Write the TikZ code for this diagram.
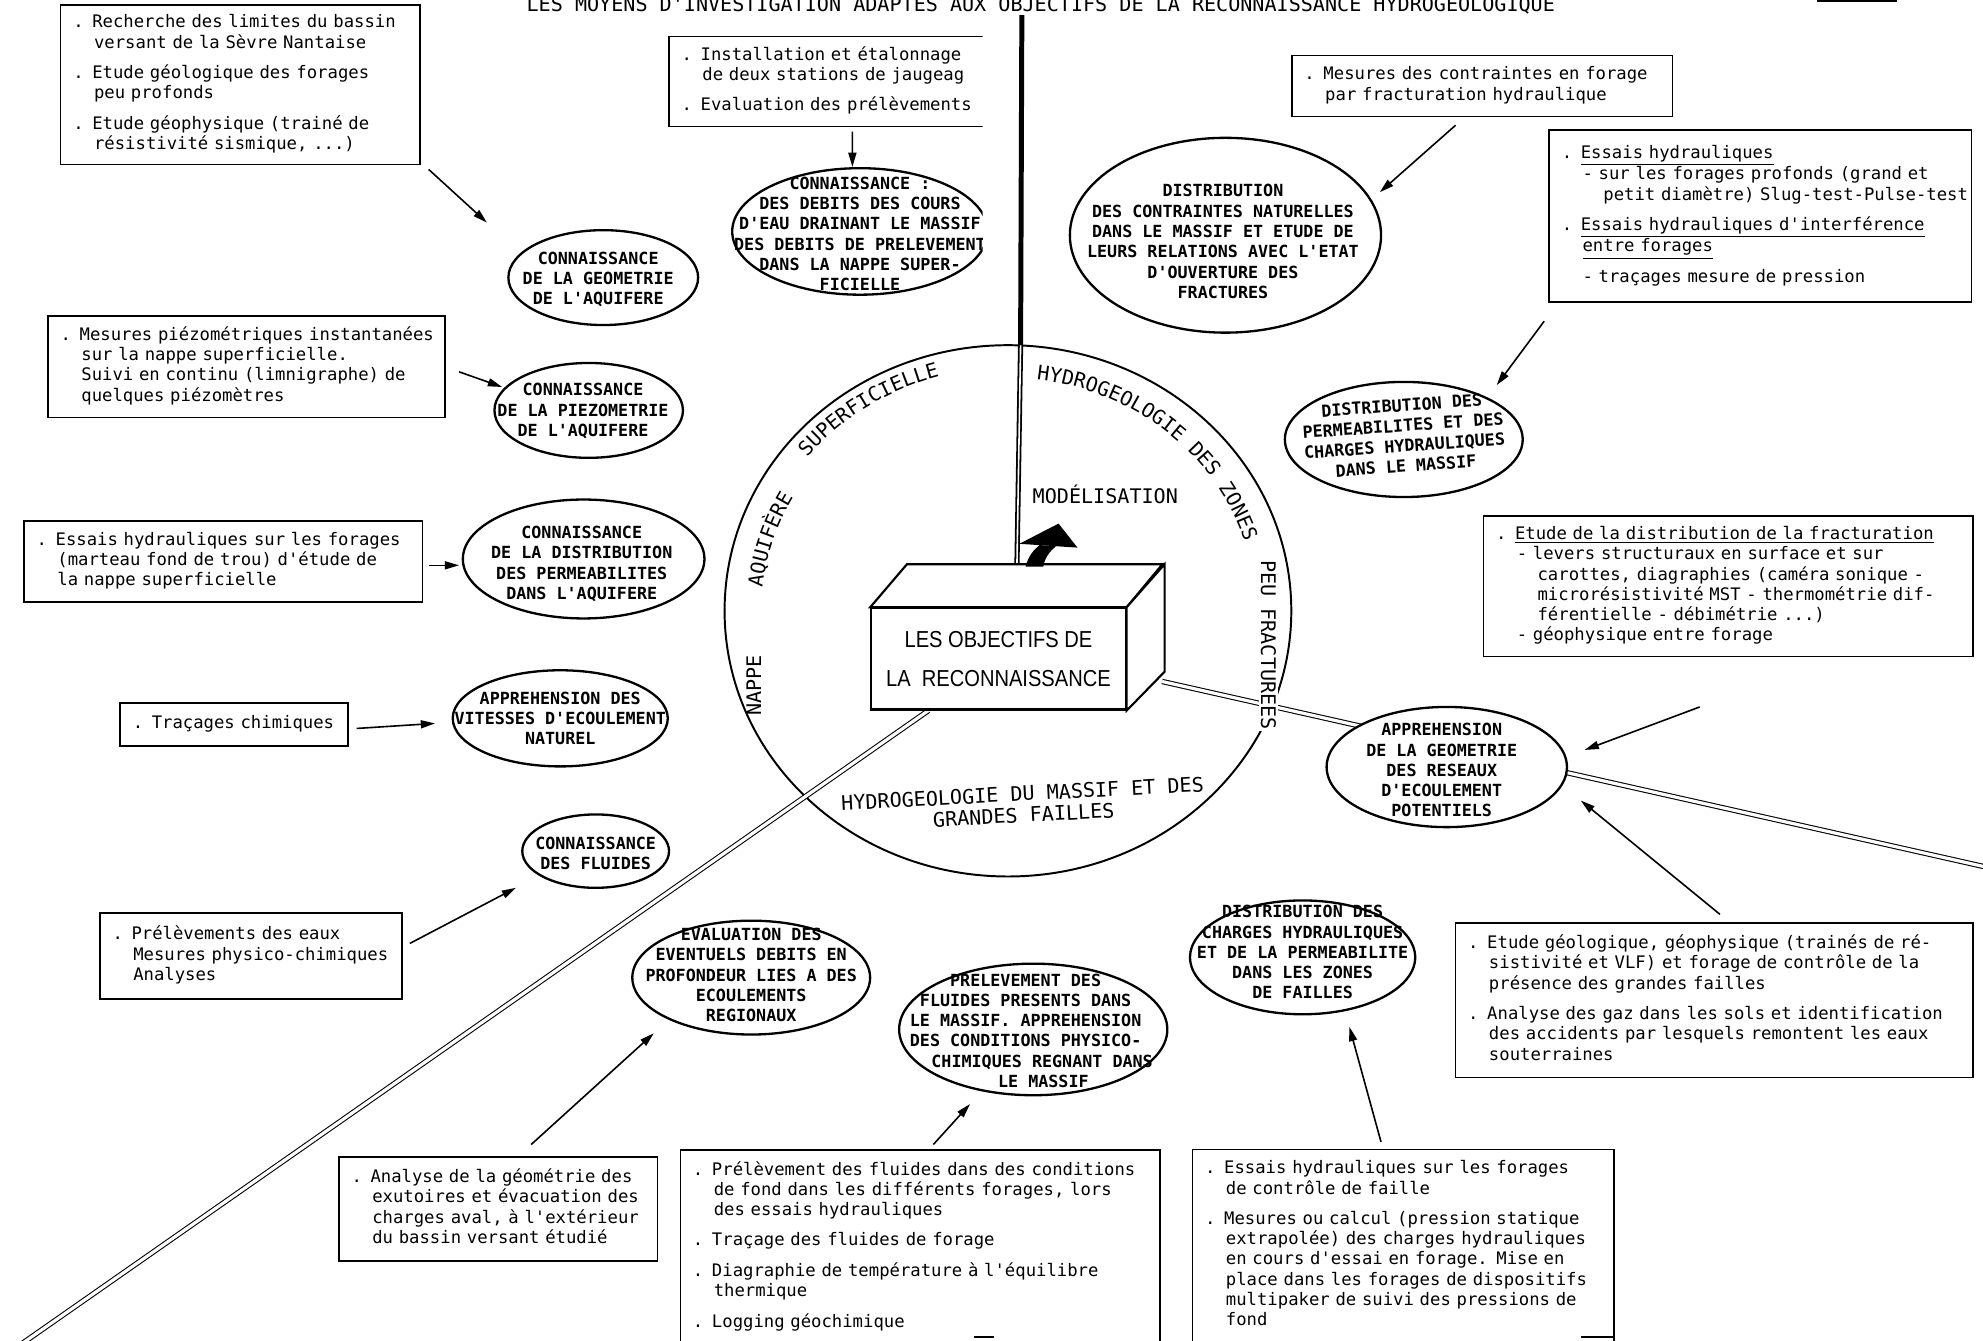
\documentclass[tikz,border=0pt]{standalone}
\usepackage{fontspec}
\setmonofont{DejaVu Sans Mono}
\newfontfamily\cubefont{Liberation Sans}[FakeStretch=0.87]
\usetikzlibrary{shapes.geometric,arrows.meta,decorations.text}
\newcommand\bxf{\ttfamily\fontsize{9.7}{11.4}\selectfont}
\newcommand\elf{\ttfamily\bfseries\fontsize{9.4}{11.4}\selectfont}
\newcommand\lbf{\ttfamily\fontsize{11.3}{12}\selectfont}
\newcommand\tb[1]{\begin{tabular}{@{}l@{}}#1\end{tabular}}
\newcommand\ii{\phantom{xx}}
\newcommand\iv{\phantom{xxxx}}
\newcommand\gp{\\[5.7pt]}
\begin{document}
\begin{tikzpicture}[x=0.025cm, y=-0.025cm,
  box/.style={draw, line width=0.9pt, rectangle, inner sep=0pt, font=\bxf},
  bxs/.style n args={3}{box, minimum width=#1, minimum height=#2, text width=#3},
  ell/.style={draw, line width=1.3pt, ellipse, inner sep=0pt, fill=white},
  els/.style n args={2}{ell, minimum width=#1, minimum height=#2},
  eltxt/.style={font=\elf, align=center, inner sep=0pt},
  arr/.style={line width=0.9pt, -{Triangle[length=8pt,width=4.5pt]}},
  dbl/.style={double, double distance=1.8pt, line width=0.6pt},
  lab/.style={font=\lbf, inner sep=0pt},
  arclab/.style={decorate, decoration={text along path, text align=center, text={|\lbf|#1}}}
]
\useasboundingbox (0,0) rectangle (1568,1060);

% title
\node[lab, anchor=base] (title) at (823,9) {LES MOYENS D'INVESTIGATION ADAPTES AUX OBJECTIFS DE LA RECONNAISSANCE HYDROGEOLOGIQUE};
\draw[line width=1pt] (1437,1) -- (1500,1);

% central circle
\node[draw, ellipse, minimum width=11.2cm, minimum height=10.5cm, line width=1.1pt, inner sep=0pt] (circ) at (797,483) {};

% cube front face
\coordinate (vtop) at (808,12);
\coordinate (swend) at (18,1062);
\coordinate (eend) at (1570,685.5);
\node[draw, line width=1.2pt, fill=white, minimum width=5.025cm, minimum height=2cm, inner sep=0pt,
      font={\cubefont\fontsize{13}{22}\selectfont}, align=center] (obj) at (789.5,521)
      {LES OBJECTIFS DE\\LA\ \ RECONNAISSANCE};
% lines from cube
\draw[line width=2.8pt] (vtop) -- (807,273);
\draw[double, double distance=0.9pt, line width=1pt] (807,273) -- ([shift={(116,-34)}]obj.north west);
\draw[dbl] ([shift={(46,0)}]obj.south west) -- (swend);
\draw[dbl] ([shift={(28,-23)}]obj.south east) -- (eend);
% cube faces
\draw[line width=1.2pt, fill=white] (obj.north west) -- ++(29,-34) -- ++(202,0) -- (obj.north east) -- cycle;
\draw[line width=1.2pt, fill=white] (obj.north east) -- ++(30,-34) -- ++(0,85) -- (obj.south east) -- cycle;
\node[draw, line width=1.2pt, minimum width=5.025cm, minimum height=2cm, inner sep=0pt] at (obj) {};
% thick black arrow
\fill (806,430) -- (837,414) -- (852,433) -- cycle;
\fill (811,448) .. controls (813,440) and (817,435) .. (822,431) -- (835,432) .. controls (830,436) and (826,441) .. (825,448) -- cycle;

% circle labels
\path[arclab=SUPERFICIELLE] (circ.center) ++(-160:205 and 192) arc[start angle=-160, end angle=-87, x radius=205, y radius=192];
\path[arclab=AQUIFÈRE] (circ.center) ++(-185:195 and 183) arc[start angle=-185, end angle=-140, x radius=195, y radius=183];
\path[arclab=HYDROGEOLOGIE DES ZONES] (circ.center) ++(-95:196 and 184) arc[start angle=-95, end angle=-5, x radius=196, y radius=184];
\node[lab, rotate=90] (nappe) at (596,542) {NAPPE};
\node[lab, rotate=-90, fill=white, inner sep=1pt] (peu) at (1003,510) {PEU FRACTUREES};
\node[lab] (modl) at (874,391) {MODÉLISATION};
\node[lab, rotate=3, align=center] (massif) at (809,636) {HYDROGEOLOGIE DU MASSIF ET DES\\GRANDES FAILLES};

% ---- boxes and ellipses ----
\node[bxs={7.1cm}{3.15cm}{6.6cm}] (A) at (190,67) {\tb{. Recherche des limites du bassin\\\ii versant de la Sèvre Nantaise\gp
. Etude géologique des forages\\\ii peu profonds\gp
. Etude géophysique (trainé de\\\ii résistivité sismique, ...)}};
\node[els={3.75cm}{1.875cm}] (G1) at (477,219.5) {};
\node[eltxt] (G1t) at (473,221) {CONNAISSANCE\\DE LA GEOMETRIE\\DE L'AQUIFERE};

\begin{scope}
\clip (0,0) rectangle (777,300);
\node[bxs={6.775cm}{1.775cm}{6.275cm}] (B) at (664.5,64.5) {\tb{. Installation et étalonnage\\\ii de deux stations de jaugeag\gp
. Evaluation des prélèvements}};
\node[els={5.05cm}{2.5cm}] (C1) at (680,183) {};
\node[eltxt] (C1t) at (680,185) {CONNAISSANCE :\\DES DEBITS DES COURS\\D'EAU DRAINANT LE MASSIF\\DES DEBITS DE PRELEVEMENT\\DANS LA NAPPE SUPER-\\FICIELLE};
\end{scope}

\node[els={6.15cm}{3.85cm}] (D1) at (969,186) {};
\node[eltxt] (D1t) at (967,191) {DISTRIBUTION\\DES CONTRAINTES NATURELLES\\DANS LE MASSIF ET ETUDE DE\\LEURS RELATIONS AVEC L'ETAT\\D'OUVERTURE DES\\FRACTURES};
\node[bxs={7.525cm}{1.2cm}{7.025cm}] (E) at (1172,68) {\tb{. Mesures des contraintes en forage\\\ii par fracturation hydraulique}};

\node[bxs={8.35cm}{3.4cm}{7.85cm}] (F) at (1392,171) {\tb{. \underline{Essais hydrauliques}\\\ii - sur les forages profonds (grand et\\\iv petit diamètre) Slug-test-Pulse-test\gp
. \underline{Essais hydrauliques d'interférence}\\\ii \underline{entre forages}\gp
\ii - traçages mesure de pression}};
\node[els={4.7cm}{2.275cm}] (D2) at (1110,347.5) {};
\node[eltxt, rotate=4] (D2t) at (1110,344.5) {DISTRIBUTION DES\\PERMEABILITES ET DES\\CHARGES HYDRAULIQUES\\DANS LE MASSIF};

\node[bxs={7.85cm}{2cm}{7.35cm}] (G) at (195,290) {\tb{. Mesures piézométriques instantanées\\\ii sur la nappe superficielle.\\\ii Suivi en continu (limnigraphe) de\\\ii quelques piézomètres}};
\node[els={3.725cm}{1.875cm}] (P) at (465.5,324.5) {};
\node[eltxt] (Pt) at (461,325) {CONNAISSANCE\\DE LA PIEZOMETRIE\\DE L'AQUIFERE};

\node[bxs={7.875cm}{1.6cm}{7.375cm}] (H) at (176.5,444) {\tb{. Essais hydrauliques sur les forages\\\ii (marteau fond de trou) d'étude de\\\ii la nappe superficielle}};
\node[els={4.775cm}{2.35cm}] (K) at (461.5,442) {};
\node[eltxt] (Kt) at (460,446) {CONNAISSANCE\\DE LA DISTRIBUTION\\DES PERMEABILITES\\DANS L'AQUIFERE};

\node[bxs={4.5cm}{0.85cm}{4cm}] (I) at (185,573) {\tb{. Traçages chimiques}};
\node[els={4.25cm}{1.9cm}] (V) at (443,568) {};
\node[eltxt] (Vt) at (443,568) {APPREHENSION DES\\VITESSES D'ECOULEMENT\\NATUREL};

\node[els={2.9cm}{1.45cm}] (F2) at (471,673) {};
\node[eltxt] (F2t) at (471,675) {CONNAISSANCE\\DES FLUIDES};
\node[bxs={5.975cm}{1.7cm}{5.475cm}] (J) at (198.5,756) {\tb{. Prélèvements des eaux\\\ii Mesures physico-chimiques\\\ii Analyses}};

\node[els={4.7cm}{2.25cm}] (Z) at (594,773) {};
\node[eltxt] (Zt) at (594,771) {EVALUATION DES\\EVENTUELS DEBITS EN\\PROFONDEUR LIES A DES\\ECOULEMENTS\\REGIONAUX};
\node[bxs={6.3cm}{2.05cm}{5.8cm}] (Q) at (394,956) {\tb{. Analyse de la géométrie des\\\ii exutoires et évacuation des\\\ii charges aval, à l'extérieur\\\ii du bassin versant étudié}};

\node[els={5.3cm}{2.6cm}] (Y) at (817,814) {};
\node[eltxt] (Yt) at (811,815) {PRELEVEMENT DES\\FLUIDES PRESENTS DANS\\LE MASSIF. APPREHENSION\\DES CONDITIONS PHYSICO-\\\hspace*{0.65cm}CHIMIQUES REGNANT DANS\\\hspace*{0.7cm}LE MASSIF};
\node[bxs={9.475cm}{3.825cm}{8.975cm}] (O) at (727.5,986) {\tb{. Prélèvement des fluides dans des conditions\\\ii de fond dans les différents forages, lors\\\ii des essais hydrauliques\gp
. Traçage des fluides de forage\gp
. Diagraphie de température à l'équilibre\\\ii thermique\gp
. Logging géochimique}};
\draw[line width=0.9pt] (770,1057) -- (786,1057);

\node[els={4.45cm}{2.25cm}] (X) at (1030,757) {};
\node[eltxt] (Xt) at (1030,753) {DISTRIBUTION DES\\CHARGES HYDRAULIQUES\\ET DE LA PERMEABILITE\\DANS LES ZONES\\DE FAILLES};
\node[bxs={8.325cm}{3.8cm}{7.825cm}] (N) at (1109.5,985) {\tb{. Essais hydrauliques sur les forages\\\ii de contrôle de faille\gp
. Mesures ou calcul (pression statique\\\ii extrapolée) des charges hydrauliques\\\ii en cours d'essai en forage. Mise en\\\ii place dans les forages de dispositifs\\\ii multipaker de suivi des pressions de\\\ii fond}};
\draw[line width=0.9pt] (1250,1057) -- (1276,1057);

\node[els={4.75cm}{2.375cm}] (R) at (1144,606.5) {};
\node[eltxt] (Rt) at (1140,609) {APPREHENSION\\DE LA GEOMETRIE\\DES RESEAUX\\D'ECOULEMENT\\POTENTIELS};
\node[bxs={9.675cm}{2.775cm}{9.175cm}] (L) at (1366.5,463.5) {\tb{. \underline{Etude de la distribution de la fracturation}\\\ii - levers structuraux en surface et sur\\\iv carottes, diagraphies (caméra sonique -\\\iv microrésistivité MST - thermométrie dif-\\\iv férentielle - débimétrie ...)\\\ii - géophysique entre forage}};
\node[bxs={10.225cm}{3.05cm}{9.725cm}] (M) at (1355.5,791) {\tb{. Etude géologique, géophysique (trainés de ré-\\\ii sistivité et VLF) et forage de contrôle de la\\\ii présence des grandes failles\gp
. Analyse des gaz dans les sols et identification\\\ii des accidents par lesquels remontent les eaux\\\ii souterraines}};

% ---- arrows ----
\draw[arr] ([shift={(149,67)}]A.center) -- ([shift={(-92,-43.5)}]G1.center);
\draw[arr] ([shift={(9.5,39.5)}]B.center) -- ([shift={(-6,-51)}]C1.center);
\draw[arr] ([shift={(-21,31)}]E.center) -- ([shift={(122,-34)}]D1.center);
\draw[arr] ([shift={(-171,83)}]F.center) -- ([shift={(73.5,-43)}]D2.center);
\draw[arr] ([shift={(168,4)}]G.center) -- ([shift={(-68.5,-18.5)}]P.center);
\draw[arr] ([shift={(162.5,3)}]H.center) -- ([shift={(-98.5,5)}]K.center);
\draw[arr] ([shift={(97,3)}]I.center) -- ([shift={(-99,4)}]V.center);
\draw[arr] ([shift={(125.5,-10)}]J.center) -- ([shift={(-63,29)}]F2.center);
\draw[arr] ([shift={(26,-51)}]Q.center) -- ([shift={(-77,44)}]Z.center);
\draw[arr] ([shift={(10.5,-81)}]O.center) -- ([shift={(-50,59)}]Y.center);
\draw[arr] ([shift={(-17.5,-82)}]N.center) -- ([shift={(37,55)}]X.center);
\draw[arr] ([shift={(-22.5,95.5)}]L.center) -- ([shift={(109,-13.5)}]R.center);
\draw[arr] ([shift={(4.5,-68)}]M.center) -- ([shift={(106,26.5)}]R.center);
\end{tikzpicture}
\end{document}
